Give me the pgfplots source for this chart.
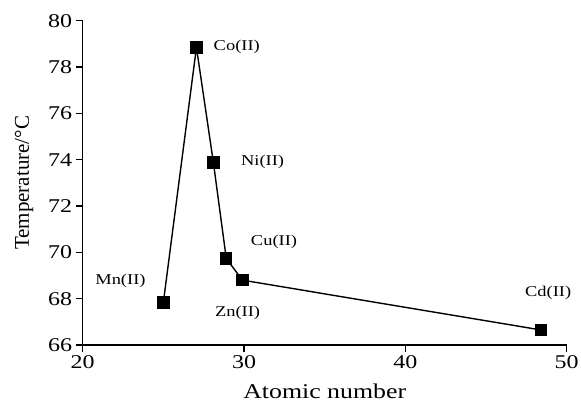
\documentclass[border=0pt]{standalone}
\usepackage{fontspec}
\setmainfont{Liberation Serif}[FakeStretch=1.23]
\newfontfamily\ylabfont{Liberation Serif}
\usepackage{pgfplots}
\pgfplotsset{compat=1.18}
\begin{document}
\begin{tikzpicture}
\begin{axis}[
  name=ax,
  scale only axis,
  width=484bp, height=324.3bp,
  xmin=20, xmax=50, ymin=66, ymax=80,
  xtick={20,30,40,50}, ytick={66,68,...,80},
  minor tick num=0,
  axis x line*=bottom, axis y line*=left,
  axis line style={line width=1.5bp, -},
  tick style={line width=1.5bp, black},
  tick align=outside, major tick length=7bp,
  /pgf/number format/assume math mode=true,
  ticklabel style={font=\fontsize{19.5bp}{21bp}\selectfont},
  xticklabel style={anchor=north, yshift=-0bp},
  yticklabel style={anchor=east},
  xlabel={Atomic number},
  ylabel={\ylabfont Temperature/°C},
  every axis x label/.style={at={(axis description cs:0.5,-0.1665)}, anchor=base, font=\fontsize{21bp}{23bp}\selectfont},
  every axis y label/.style={at={(axis description cs:-0.111,0.5)}, rotate=90, anchor=base, font=\fontsize{21bp}{23bp}\selectfont},
  clip=false,
]
\addplot[black, line width=1.4bp, mark=square*, mark size=5.5bp, mark options={solid, fill=black}]
  coordinates {(25,67.84) (27.05,78.85) (28.1,73.88) (28.9,69.73) (29.9,68.8) (48.4,66.65)};
\begin{scope}[every node/.style={font=\fontsize{15bp}{17bp}\selectfont, inner sep=0pt, anchor=center}]
\node at (axis cs:29.55,78.86) {Co(II)};
\node at (axis cs:31.15,73.90) {Ni(II)};
\node at (axis cs:31.86,70.45) {Cu(II)};
\node at (axis cs:22.34,68.77) {Mn(II)};
\node at (axis cs:29.60,67.37) {Zn(II)};
\node at (axis cs:48.85,68.23) {Cd(II)};
\end{scope}
\end{axis}
\pgfresetboundingbox
\path[use as bounding box] ([shift={(-82.7bp,-57bp)}]ax.south west) rectangle ([shift={(498.3bp,345bp)}]ax.south west);
\end{tikzpicture}
\end{document}
